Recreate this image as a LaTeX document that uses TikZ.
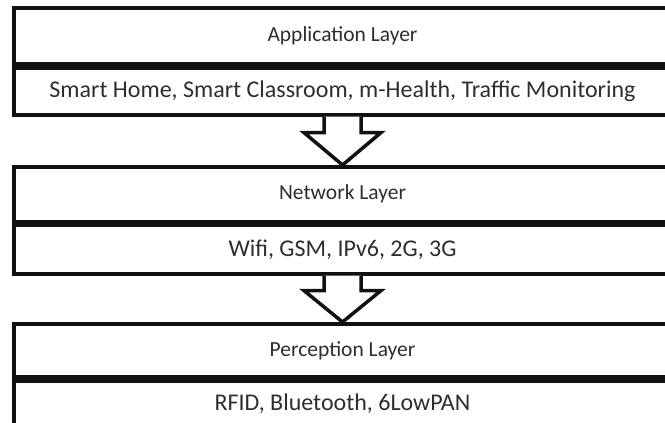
\documentclass[tikz,border=0pt]{standalone}
\usepackage{fontspec}
\setmainfont{Carlito}
\usetikzlibrary{calc}
\definecolor{textgray}{HTML}{2E2E2E}
\definecolor{linecol}{HTML}{111111}
\tikzset{
  cell/.style={draw=linecol, line width=3.8pt, minimum width=657pt, inner sep=0pt, text=textgray, anchor=north},
  titlecell/.style={cell, font=\fontsize{21.5}{24}\selectfont},
  rowcell/.style={cell, minimum height=47pt, font=\fontsize{24}{27}\selectfont},
  blockarrow/.style={draw=linecol, line width=3.5pt, fill=white, line join=miter}
}
\begin{document}
\begin{tikzpicture}[x=1pt,y=1pt]
\useasboundingbox (0,0) rectangle (665,-423);
% Application layer
\node[titlecell, minimum height=56pt] (app) at (342.5,-6) {Application Layer};
\node[rowcell, minimum height=47pt] (appx) at (app.south) {Smart Home, Smart Classroom, m-Health, Traffic Monitoring};
% Network layer
\node[titlecell, minimum height=54.5pt] (net) at (342.5,-165) {Network Layer};
\node[rowcell, minimum height=48.5pt] (netx) at (net.south) {Wifi, GSM, IPv6, 2G, 3G};
% Perception layer
\node[titlecell, minimum height=53pt] (per) at (342.5,-322) {Perception Layer};
\node[rowcell, minimum height=47pt] (perx) at (per.south) {RFID, Bluetooth, 6LowPAN};
% arrows
\draw[blockarrow] ($(appx.south)+(-18.5,0)$) -- ++(0,-16) -- ++(-20,0) -- (net.north)
  -- ($(appx.south)+(38.5,-16)$) -- ++(-20,0) -- ++(0,16);
\draw[blockarrow] ($(netx.south)+(-18.5,0)$) -- ++(0,-15) -- ++(-20,0) -- (per.north)
  -- ($(netx.south)+(38.5,-15)$) -- ++(-20,0) -- ++(0,15);
\end{tikzpicture}
\end{document}
